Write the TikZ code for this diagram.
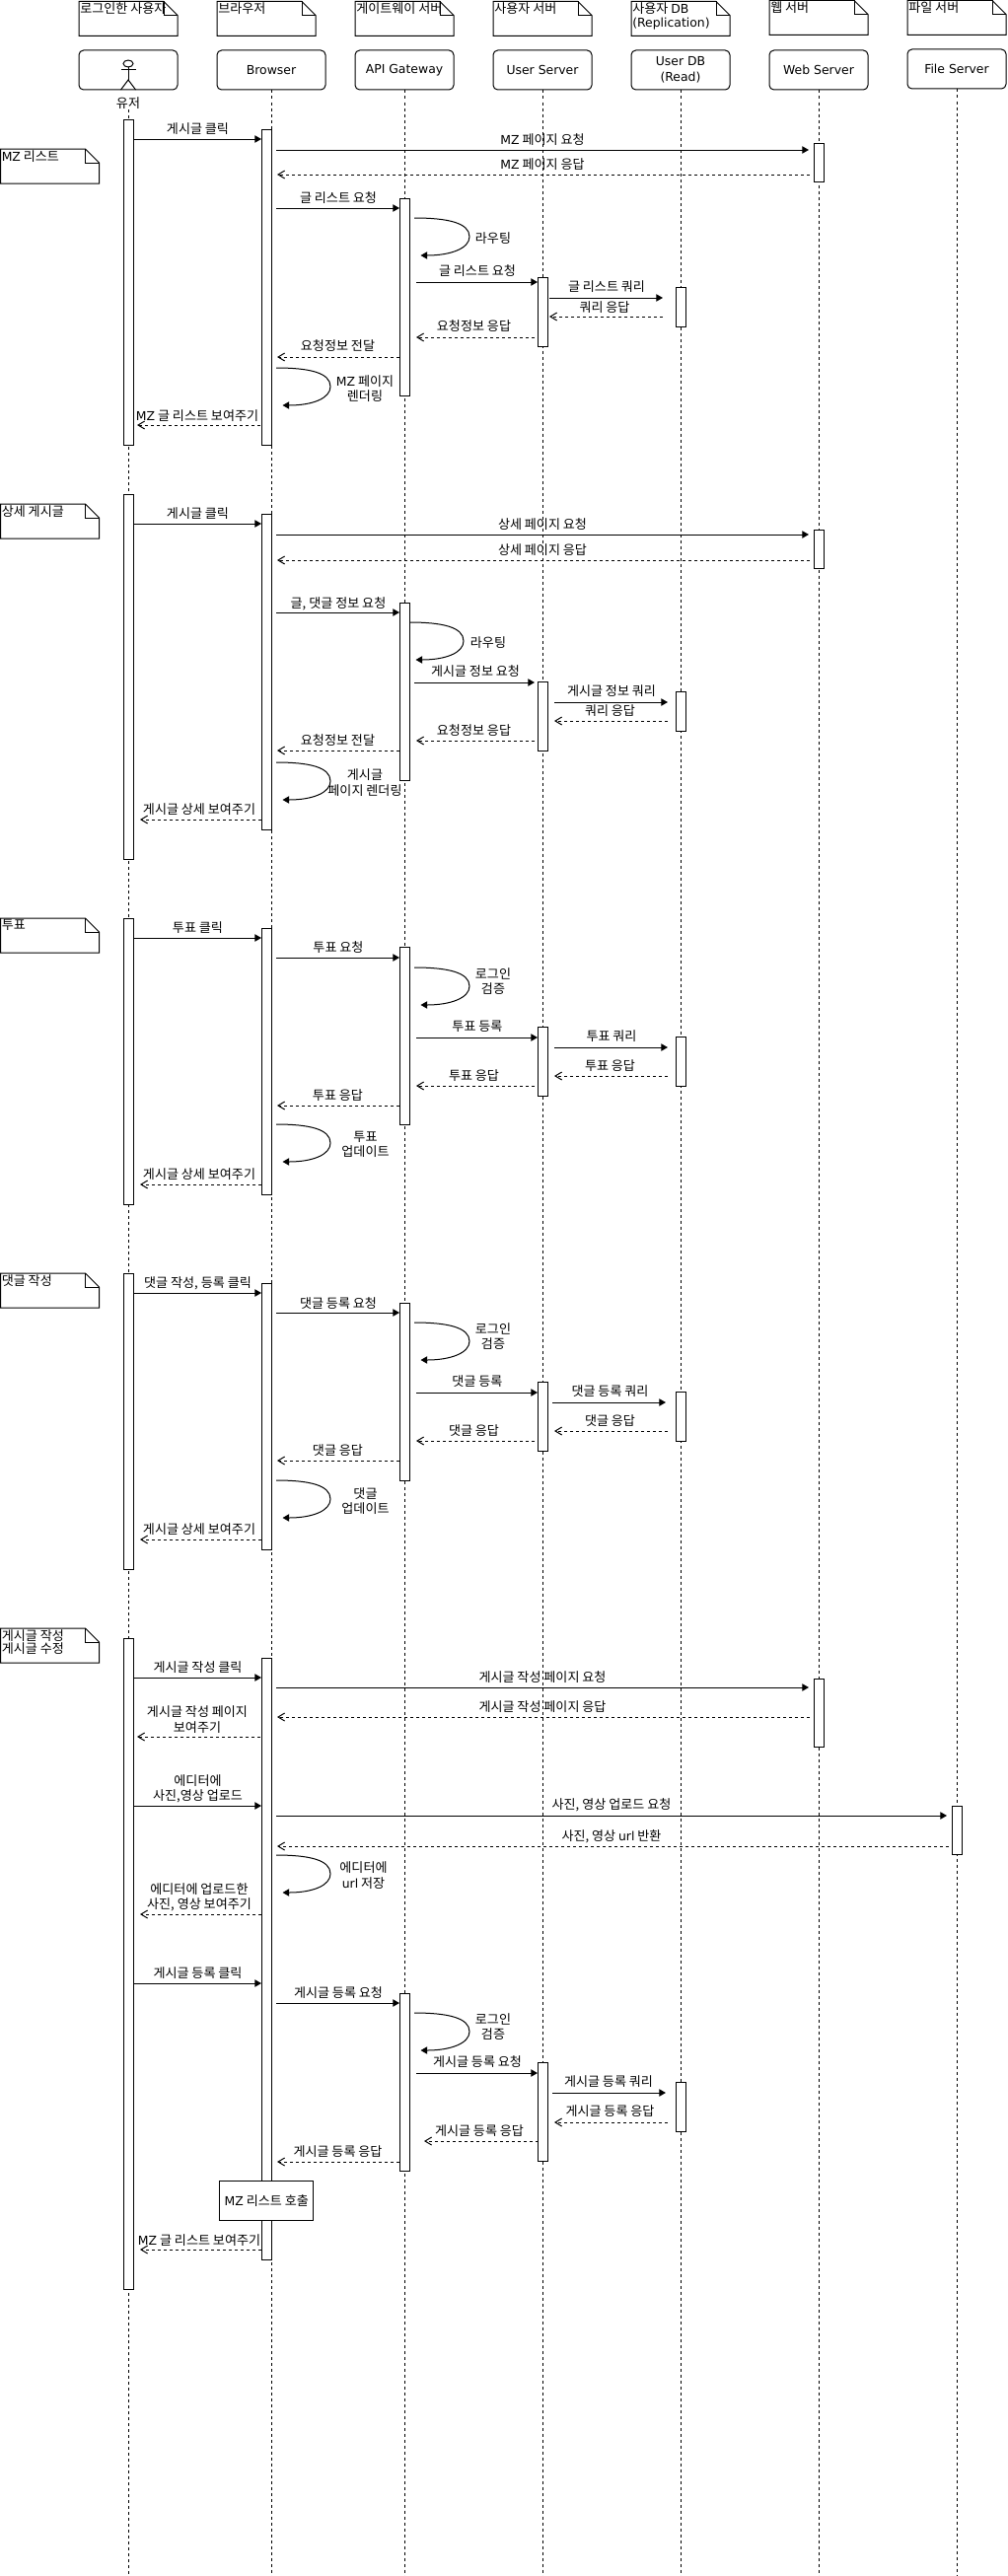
\documentclass[tikz,border=0pt]{standalone}
\usepackage{fontspec}
\usepackage{tikz}
\usetikzlibrary{arrows.meta,calc,positioning,shapes.geometric}
\setmainfont{Noto Sans CJK KR}
\newfontfamily\latfont[Scale=0.95]{DejaVu Sans}
\newcommand{\lat}[1]{{\latfont #1}}
\tikzset{
  headbox/.style={draw,rounded corners=3.5pt,line width=0.75pt,minimum height=30pt,minimum width=75pt,inner sep=0pt,align=center,font=\fontsize{9.8}{12}\selectfont},
  actbox/.style={draw,fill=white,line width=0.75pt,minimum width=7.5pt,inner sep=0pt,outer sep=0pt},
  lifeline/.style={line width=0.75pt,dash pattern=on 2.25pt off 2.25pt},
  callline/.style={line width=0.75pt,-{Triangle[length=5pt,width=5.5pt]}},
  replyline/.style={line width=0.75pt,dash pattern=on 2.25pt off 2.25pt,-{Straight Barb[length=5pt,width=6pt]}},
  msgtext/.style={inner sep=0pt,align=center,font=\fontsize{9.8}{11.5}\selectfont},
  notetext/.style={inner sep=0pt,anchor=north west,align=left,font=\fontsize{9.8}{10.2}\selectfont},
  notelines/.style={line width=0.75pt,line join=miter},
}
% note with folded corner
\newcommand{\notebox}[4]{%
  \coordinate (#1) at (#2,#3);
  \draw[notelines,fill=white] (#1) -- ++(86,0) -- ++(14,14) -- ++(0,21) -- ++(-100,0) -- cycle;
  \draw[notelines] (#1) ++(86,0) -- ++(0,14) -- ++(14,0);
  \node[notetext] (#1t) at ($(#1)+(1,1)$) {#4};}
% activation bar
\newcommand{\actbar}[4]{\node[actbox,anchor=north,minimum height={(#4-#3)*0.75pt}] (#1) at (#2,#3) {};}
% message: name, style, x from, x to, y, label x, label y, text
\newcommand{\msg}[8]{%
  \coordinate (#1s) at (#3,#5);
  \coordinate (#1e) at (#4,#5);
  \draw[#2] (#1s) -- (#1e);
  \node[msgtext] (#1t) at (#6,#7) {#8};}
% self call: name, x start, x far, y, label x, label y, text
\newcommand{\selfmsg}[7]{%
  \coordinate (#1s) at (#2,#4);
  \coordinate (#1m) at (#3,#4+19);
  \coordinate (#1e) at (#2+6.5,#4+38);
  \draw[callline] (#1s) .. controls +(34,0) and +(0,-14) .. (#1m) .. controls +(0,12) and +(30,0) .. (#1e);
  \node[msgtext] (#1t) at (#5,#6) {#7};}

\begin{document}
\begin{tikzpicture}[x=0.75pt,y=-0.75pt]
\useasboundingbox (0,0) rectangle (1021,2612);
\coordinate (bottomend) at (0,2612);
% header notes
\notebox{nuser}{80}{1.5}{로그인한 사용자}
\notebox{nbrowser}{220}{1.5}{브라우저}
\notebox{ngateway}{360}{1.5}{게이트웨이 서버}
\notebox{nserver}{500}{1.5}{사용자 서버}
\notebox{ndb}{640}{1.5}{사용자 \lat{DB}\\\lat{(Replication)}}
\notebox{nweb}{780}{0.5}{웹 서버}
\notebox{nfile}{920}{0.5}{파일 서버}
% header boxes
\node[headbox] (user) at (130,71) {};
\node[headbox,minimum width=82.5pt] (browser) at (275,71) {\lat{Browser}};
\node[headbox] (gateway) at (410,71) {\lat{API Gateway}};
\node[headbox] (server) at (550,71) {\lat{User Server}};
\node[headbox] (db) at (690,71) {\lat{User DB}\\\lat{(Read)}};
\node[headbox] (web) at (830,71) {\lat{Web Server}};
\node[headbox] (file) at (970,70) {\lat{File Server}};
% actor
\node[draw,ellipse,line width=0.75pt,minimum width=7.5pt,minimum height=5.2pt,inner sep=0pt] (head) at (130,64.5) {};
\coordinate (hip) at (130,81);
\coordinate (armL) at (122.5,71);
\coordinate (armR) at (137.5,71);
\coordinate (legL) at (122.5,91);
\coordinate (legR) at (137.5,91);
\draw[line width=0.75pt] (head.south) -- (hip);
\draw[line width=0.75pt] (armL) -- (armR);
\draw[line width=0.75pt] (legL) -- (hip) -- (legR);
\node[msgtext] (userlabel) at (130,105) {유저};
% lifelines
\draw[lifeline] (userlabel.south) -- (userlabel.south |- bottomend);
\foreach \nm in {browser,gateway,server,db,web,file}
  \draw[lifeline] (\nm.south) -- (\nm.south |- bottomend);

% MZ list
\notebox{n1}{0.5}{151}{\lat{MZ} 리스트}
\actbar{a1}{130}{121}{451}
\actbar{a2}{270.5}{131}{451}
\actbar{a3}{830}{145}{184}
\actbar{a4}{410}{201}{401}
\actbar{a5}{550}{281}{351}
\actbar{a6}{690}{291}{331}
\msg{a1m}{callline}{135}{265}{141}{200.5}{131}{게시글 클릭}
\msg{a2m}{callline}{280}{820}{152}{550}{142}{\lat{MZ} 페이지 요청}
\msg{a3m}{replyline}{821}{281}{177}{550}{167}{\lat{MZ} 페이지 응답}
\msg{a4m}{callline}{280}{405}{211}{343}{201}{글 리스트 요청}
\selfmsg{a5m}{420}{476}{221}{500}{242}{라우팅}
\msg{a6m}{callline}{422}{545}{286}{484}{275}{글 리스트 요청}
\msg{a7m}{callline}{557}{672}{302}{615}{291}{글 리스트 쿼리}
\msg{a8m}{replyline}{672}{557}{321}{613}{312}{쿼리 응답}
\msg{a9m}{replyline}{542}{422}{342}{480.5}{331}{요청정보 응답}
\msg{a10m}{replyline}{405}{281}{362}{342.5}{351}{요청정보 전달}
\selfmsg{a11m}{280}{335}{373}{370}{394}{\lat{MZ} 페이지\\렌더링}
\msg{a12m}{replyline}{264}{139}{431}{200}{422}{\lat{MZ} 글 리스트 보여주기}

% post detail
\notebox{n2}{0.5}{511}{상세 게시글}
\actbar{b1}{130}{501}{871}
\actbar{b2}{270.5}{521}{841}
\actbar{b3}{830}{537}{576}
\actbar{b4}{410}{611}{791}
\actbar{b5}{550}{691}{761}
\actbar{b6}{690}{701}{741}
\msg{b1m}{callline}{135}{265}{531}{200.5}{521}{게시글 클릭}
\msg{b2m}{callline}{280}{820}{542}{550}{532}{상세 페이지 요청}
\msg{b3m}{replyline}{821}{281}{568}{550}{558}{상세 페이지 응답}
\msg{b4m}{callline}{280}{405}{621}{343}{612}{글, 댓글 정보 요청}
\selfmsg{b5m}{415}{470}{631}{495}{652}{라우팅}
\msg{b6m}{callline}{420}{542}{692}{482}{681}{게시글 정보 요청}
\msg{b7m}{callline}{562}{677}{712}{620}{701}{게시글 정보 쿼리}
\msg{b8m}{replyline}{677}{562}{731}{618.5}{721}{쿼리 응답}
\msg{b9m}{replyline}{542}{422}{751}{480.5}{741}{요청정보 응답}
\msg{b10m}{replyline}{405}{281}{761}{342.5}{751}{요청정보 전달}
\selfmsg{b11m}{280}{335}{773}{370}{793.5}{게시글\\페이지 렌더링}
\msg{b12m}{replyline}{265}{142}{831}{202}{821}{게시글 상세 보여주기}

% vote
\notebox{n3}{0.5}{931}{투표}
\actbar{c1}{130}{931}{1221}
\actbar{c2}{270.5}{941}{1211}
\actbar{c4}{410}{960}{1140}
\actbar{c5}{550}{1041}{1111}
\actbar{c6}{690}{1051}{1101}
\msg{c1m}{callline}{135}{265}{951}{200.5}{941}{투표 클릭}
\msg{c2m}{callline}{280}{405}{971}{343}{961}{투표 요청}
\selfmsg{c3m}{420}{476}{981}{500}{995}{로그인\\검증}
\msg{c4m}{callline}{422}{545}{1052}{484}{1041}{투표 등록}
\msg{c5m}{callline}{562}{677}{1062}{620}{1051}{투표 쿼리}
\msg{c6m}{replyline}{677}{562}{1091}{618.5}{1081}{투표 응답}
\msg{c7m}{replyline}{542}{422}{1101}{480.5}{1091}{투표 응답}
\msg{c8m}{replyline}{405}{281}{1121}{342.5}{1111}{투표 응답}
\selfmsg{c9m}{280}{335}{1140}{370.5}{1160.5}{투표\\업데이트}
\msg{c10m}{replyline}{265}{142}{1201}{202}{1191}{게시글 상세 보여주기}

% comment
\notebox{n4}{0.5}{1291}{댓글 작성}
\actbar{d1}{130}{1291}{1591}
\actbar{d2}{270.5}{1301}{1571}
\actbar{d4}{410}{1321}{1501}
\actbar{d5}{550}{1401}{1471}
\actbar{d6}{690}{1411}{1461}
\msg{d1m}{callline}{135}{265}{1311}{200.5}{1301}{댓글 작성, 등록 클릭}
\msg{d2m}{callline}{280}{405}{1331}{343}{1322}{댓글 등록 요청}
\selfmsg{d3m}{420}{476}{1341}{500}{1355}{로그인\\검증}
\msg{d4m}{callline}{422}{545}{1412}{484}{1401}{댓글 등록}
\msg{d5m}{callline}{560}{675}{1422}{618.5}{1411}{댓글 등록 쿼리}
\msg{d6m}{replyline}{677}{562}{1451}{618.5}{1441}{댓글 응답}
\msg{d7m}{replyline}{542}{422}{1461}{480.5}{1451}{댓글 응답}
\msg{d8m}{replyline}{405}{281}{1481}{342.5}{1471}{댓글 응답}
\selfmsg{d9m}{280}{335}{1501}{370.5}{1522}{댓글\\업데이트}
\msg{d10m}{replyline}{265}{142}{1561}{202}{1551}{게시글 상세 보여주기}

% post write, edit
\notebox{n5}{0.5}{1651}{게시글 작성\\게시글 수정}
\actbar{e1}{130}{1661}{2321}
\actbar{e2}{270.5}{1681}{2291}
\actbar{e3}{830}{1702}{1771}
\actbar{e7}{970}{1831}{1880}
\actbar{e4}{410}{2021}{2201}
\actbar{e5}{550}{2091}{2191}
\actbar{e6}{690}{2111}{2161}
\msg{e1m}{callline}{135}{265}{1701}{200.5}{1691}{게시글 작성 클릭}
\msg{e2m}{callline}{280}{820}{1711}{550}{1701}{게시글 작성 페이지 요청}
\msg{e3m}{replyline}{821}{281}{1741}{550}{1731}{게시글 작성 페이지 응답}
\msg{e4m}{replyline}{264}{139}{1761}{200}{1743.5}{게시글 작성 페이지\\보여주기}
\msg{e5m}{callline}{135}{265}{1831}{200.5}{1813.5}{에디터에\\사진,영상 업로드}
\msg{e6m}{callline}{280}{960}{1841}{620}{1830}{사진, 영상 업로드 요청}
\msg{e7m}{replyline}{962}{281}{1872}{620}{1862}{사진, 영상 \lat{url} 반환}
\selfmsg{e8m}{280}{335}{1881}{368.5}{1901.5}{에디터에\\\lat{url} 저장}
\msg{e9m}{replyline}{265}{142}{1941}{202}{1923.5}{에디터에 업로드한\\사진, 영상 보여주기}
\msg{e10m}{callline}{135}{265}{2011}{200.5}{2001}{게시글 등록 클릭}
\msg{e11m}{callline}{280}{405}{2031}{343}{2021}{게시글 등록 요청}
\selfmsg{e12m}{420}{476}{2041}{500}{2055}{로그인\\검증}
\msg{e13m}{callline}{422}{545}{2102}{484}{2091}{게시글 등록 요청}
\msg{e14m}{callline}{560}{675}{2122}{617}{2111}{게시글 등록 쿼리}
\msg{e15m}{replyline}{677}{562}{2152}{618.5}{2141}{게시글 등록 응답}
\msg{e16m}{replyline}{545.5}{430}{2171}{486}{2161}{게시글 등록 응답}
\msg{e17m}{replyline}{405}{281}{2192}{342.5}{2182}{게시글 등록 응답}
\node[draw,fill=white,line width=0.75pt,minimum width=71.5pt,minimum height=30.5pt,inner sep=0pt,font=\fontsize{9.8}{11.5}\selectfont] (callbox) at (270.3,2231.5) {\lat{MZ} 리스트 호출};
\msg{e18m}{replyline}{265}{142}{2281}{202}{2272}{\lat{MZ} 글 리스트 보여주기}
\end{tikzpicture}
\end{document}
